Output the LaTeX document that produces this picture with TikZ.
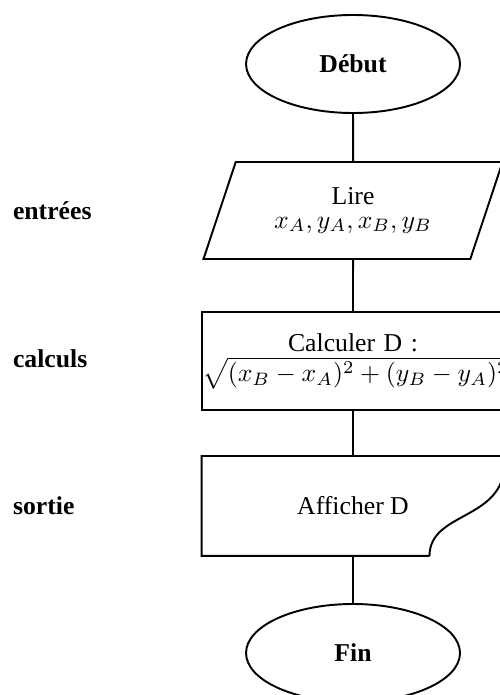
\documentclass[tikz,border=0pt]{standalone}
\usepackage[no-math]{fontspec}
\setmainfont{Liberation Serif}
\usetikzlibrary{shapes.geometric}
\begin{document}
\begin{tikzpicture}[line width=0.75pt,
    extr/.style={draw,ellipse,minimum width=2.925cm,minimum height=1.34cm,font=\bfseries},
    io/.style={draw,trapezium,trapezium left angle=66,trapezium right angle=114,trapezium stretches=true,minimum width=4.115cm,minimum height=1.326cm,align=center,inner sep=1pt},
    proc/.style={draw,rectangle,text width=4.128cm,minimum height=1.34cm,align=center,inner xsep=0pt,inner ysep=1pt},
    aff/.style={rectangle,minimum width=4.115cm,minimum height=1.34cm,align=center,inner sep=1pt},
    lien/.style={-},
    cat/.style={anchor=west,font=\bfseries,inner sep=0pt}]
  \useasboundingbox (0,0) rectangle (6.835,9.501);

  % the chart
  \node[extr] (debut) at (4.826,8.626) {Début};
  \node[io]   (lire)   at (4.826,6.623) {Lire\\[-3pt]$x_A,y_A,x_B,y_B$};
  \node[proc] (calcul) at (4.826,4.56) {Calculer D :\\[-0.5pt]$\sqrt{(x_B-x_A)^2+(y_B-y_A)^2}$};
  \node[aff]  (sortie) at (4.826,2.584) {Afficher D};
  \node[extr] (fin)    at (4.826,0.574) {Fin};

  % display box with its wavy corner
  \draw ([xshift=-1.025cm]sortie.south east) -- (sortie.south west) -- (sortie.north west)
    -- (sortie.north east) -- ([yshift=1.271cm]sortie.south east)
    .. controls ([yshift=0.478cm]sortie.south east) and ([shift={(-1.025,0.615)}]sortie.south east)
    .. ([xshift=-1.025cm]sortie.south east);

  \draw[lien] (debut) -- (lire);
  \draw[lien] (lire) -- (calcul);
  \draw[lien] (calcul) -- (sortie);
  \draw[lien] (sortie) -- (fin);

  % what each step is
  \node[cat] (entrees) at (0.165,6.623) {entrées};
  \node[cat] (calculs) at (0.165,4.593) {calculs};
  \node[cat] (sorties) at (0.165,2.584) {sortie};
\end{tikzpicture}
\end{document}
